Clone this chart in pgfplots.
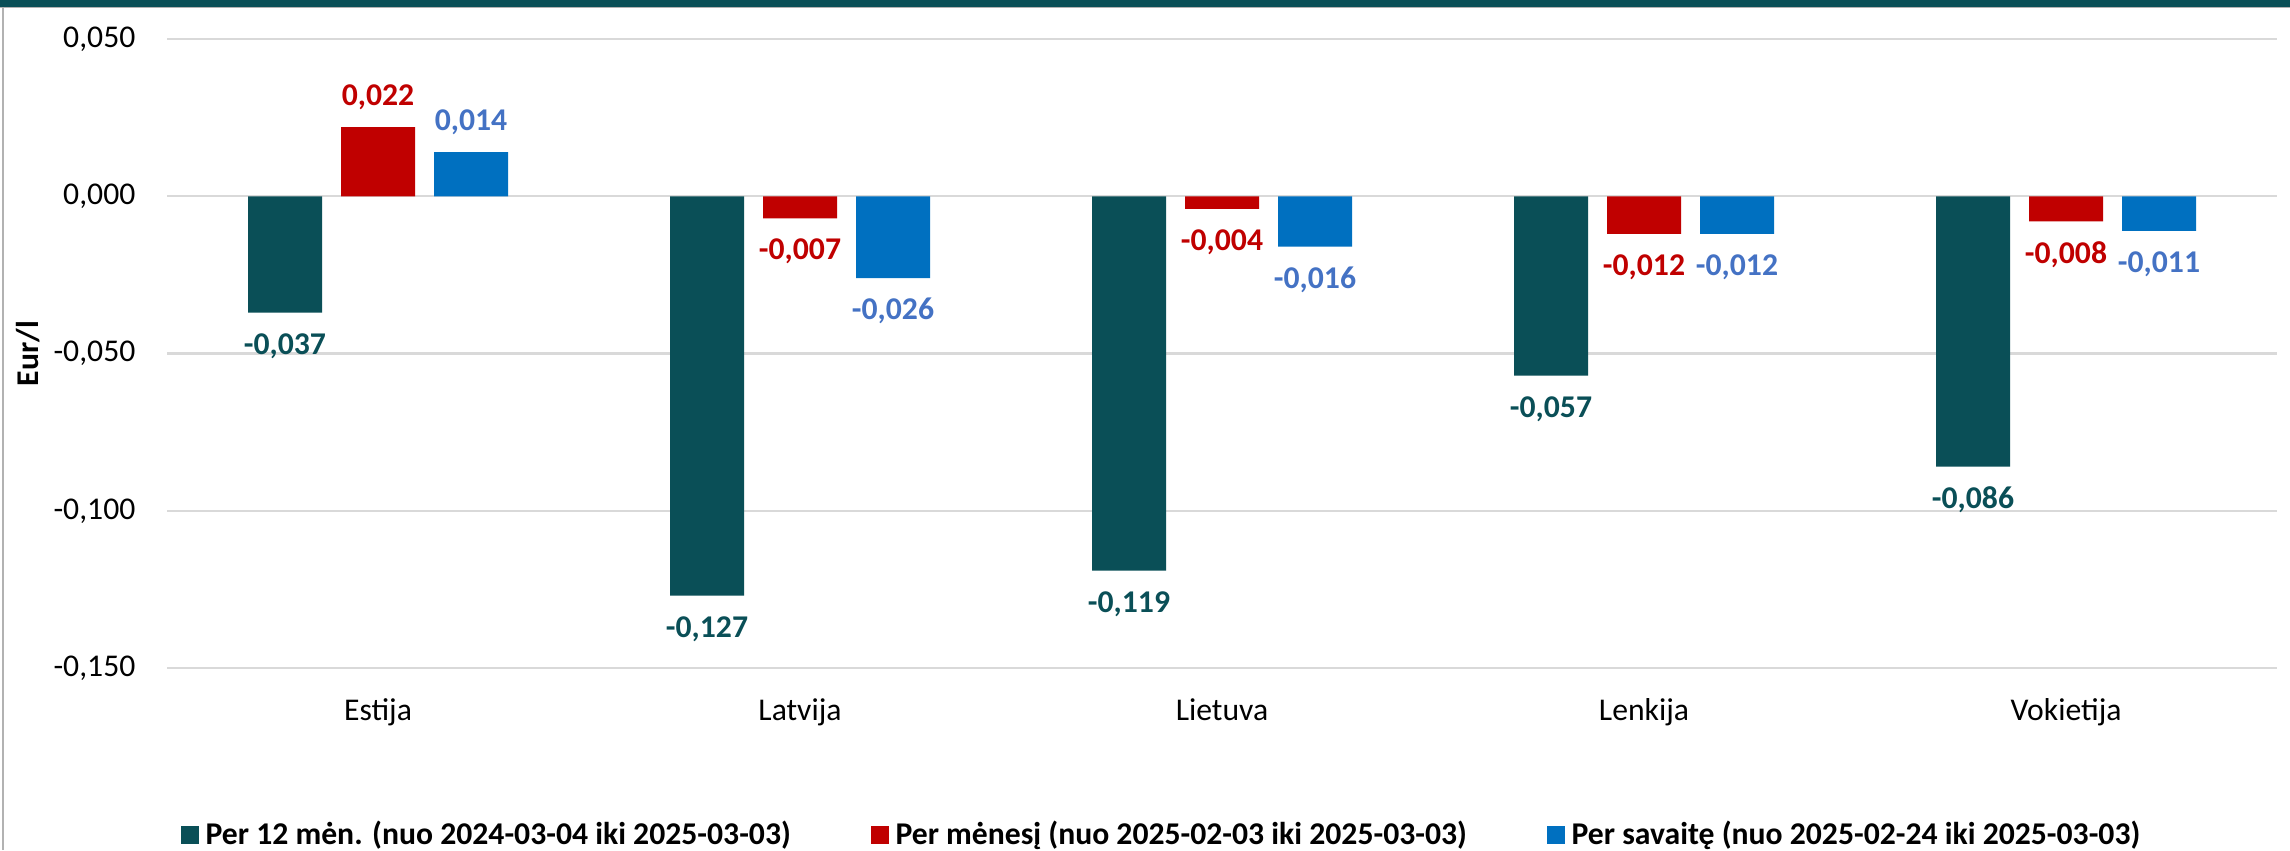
\documentclass[border=0pt]{standalone}
\usepackage{pgfplots}
\pgfplotsset{compat=1.18}
\usepackage{fontspec}
\setmainfont{Carlito}
\definecolor{cteal}{HTML}{0A4F57}
\definecolor{cred}{HTML}{C00000}
\definecolor{cblue}{HTML}{0070C0}
\definecolor{lblue}{HTML}{4472C4}
\definecolor{cgrid}{HTML}{D9D9D9}
\begin{document}
\begin{tikzpicture}
\path[use as bounding box] (0,0) rectangle (687pt,255pt);
\fill[white] (0,0) rectangle (687pt,255pt);
\fill[cteal] (0,252.9pt) rectangle (687pt,255pt);
\draw[gray!60, line width=0.5pt] (0,252.7pt) -- (687pt,252.7pt);
\draw[gray!60, line width=0.6pt] (0.9pt,0) -- (0.9pt,252.9pt);
\begin{axis}[
  scale only axis,
  width=633pt, height=188.7pt,
  anchor=south west, at={(50.1pt,54.6pt)},
  ybar, bar width=22.2pt,
  xmin=-0.5, xmax=4.5,
  ymin=-0.15, ymax=0.05,
  xtick={0,1,2,3,4},
  xticklabels={Estija,Latvija,Lietuva,Lenkija,Vokietija},
  ytick={-0.15,-0.1,-0.05,0,0.05},
  axis line style={draw=none},
  major tick length=0pt,
  ymajorgrids,
  grid style={color=cgrid, line width=0.7pt},
  /pgf/number format/.cd, fixed, fixed zerofill, precision=3, use comma, assume math mode=true,
  /pgfplots/.cd,
  yticklabel style={font=\fontsize{9.5}{11}\selectfont, anchor=east, inner sep=0pt, xshift=-9.3pt},
  xticklabel style={font=\fontsize{9.5}{11}\selectfont, anchor=north, inner sep=0pt, yshift=-9pt},
  ylabel={\textbf{Eur/l}},
  ylabel style={font=\fontsize{9.5}{11}\selectfont, at={(axis description cs:-0.0659,0.5)}, anchor=center},
  nodes near coords={\pgfmathprintnumber[fixed,fixed zerofill,precision=3,use comma,assume math mode=true]{\pgfplotspointmeta}},
  nodes near coords style={font=\fontsize{9.5}{11}\selectfont\bfseries, inner xsep=0pt, inner ysep=6.3pt, text height=6pt, text depth=0pt},
  legend style={at={(axis description cs:0.4725,-0.2655)}, anchor=center, draw=none, fill=none,
    legend columns=3, font=\fontsize{9.5}{11}\selectfont\bfseries,
    /tikz/every even column/.append style={column sep=22pt}},
  legend image code/.code={\fill[#1] (0pt,-2.7pt) rectangle (5.4pt,2.7pt);},
  legend cell align=left,
]
\addplot[fill=cteal, draw=none, bar shift=-27.9pt, every node near coord/.append style={text=cteal}]
  coordinates {(0,-0.037) (1,-0.127) (2,-0.119) (3,-0.057) (4,-0.086)};
\addlegendentry{Per 12 mėn. (nuo 2024-03-04 iki 2025-03-03)}
\addplot[fill=cred, draw=none, bar shift=0pt, every node near coord/.append style={text=cred}]
  coordinates {(0,0.022) (1,-0.007) (2,-0.004) (3,-0.012) (4,-0.008)};
\addlegendentry{Per mėnesį (nuo 2025-02-03 iki 2025-03-03)}
\addplot[fill=cblue, draw=none, bar shift=27.9pt, every node near coord/.append style={text=lblue}]
  coordinates {(0,0.014) (1,-0.026) (2,-0.016) (3,-0.012) (4,-0.011)};
\addlegendentry{Per savaitę (nuo 2025-02-24 iki 2025-03-03)}
\end{axis}
\end{tikzpicture}
\end{document}
